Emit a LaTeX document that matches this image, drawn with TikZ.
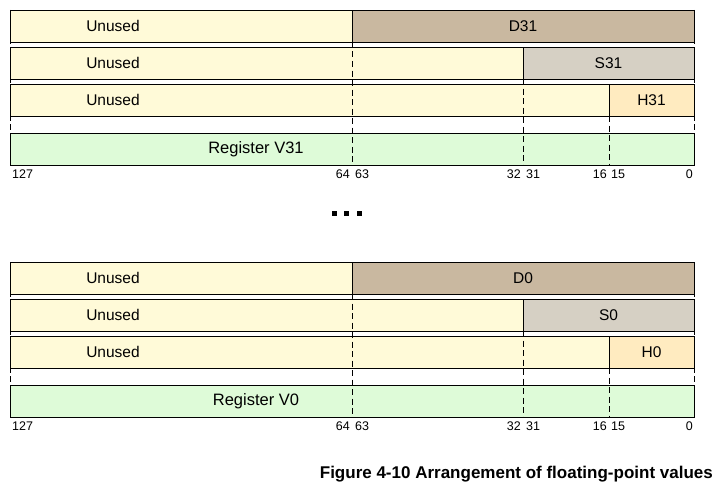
\documentclass[tikz,border=0pt]{standalone}
\usepackage{fontspec}
\setmainfont{Liberation Sans}
\usetikzlibrary{positioning}
\definecolor{unusedyellow}{RGB}{255,250,216}
\definecolor{dtan}{RGB}{201,184,160}
\definecolor{sgray}{RGB}{214,208,196}
\definecolor{horange}{RGB}{255,235,192}
\definecolor{vgreen}{RGB}{222,251,216}

\begin{document}
\begin{tikzpicture}[
  x=1pt, y=-1pt,
  field/.style={draw, line width=0.8pt},
  lbl/.style={font=\fontsize{15.5}{18}\selectfont, inner sep=0pt},
  reglbl/.style={font=\fontsize{16.5}{19}\selectfont, inner sep=0pt},
  bitnum/.style={font=\fontsize{12.5}{15}\selectfont, inner sep=0pt},
  divider/.style={dash pattern=on 6pt off 3.5pt, line width=0.8pt},
  dot/.style={fill=black}
]
\useasboundingbox (0,0) rectangle (725,495);

% one register block per group, V31 on top and V0 below
\foreach \n/\dy in {31/0, 0/252}{
  \begin{scope}[yshift=-\dy pt]
    \filldraw[field, fill=unusedyellow] (10,10) rectangle (352,42);
    \filldraw[field, fill=dtan] (352,10) rectangle (694,42);
    \filldraw[field, fill=unusedyellow] (10,47) rectangle (523,79);
    \filldraw[field, fill=sgray] (523,47) rectangle (694,79);
    \filldraw[field, fill=unusedyellow] (10,84) rectangle (609,116);
    \filldraw[field, fill=horange] (609,84) rectangle (694,116);
    \filldraw[field, fill=vgreen] (10,133) rectangle (694,165);

    \draw[divider] (10,10) -- (10,165);
    \draw[divider] (352,42) -- (352,165);
    \draw[divider] (523,79) -- (523,165);
    \draw[divider] (609,116) -- (609,165);
    \draw[divider] (694,10) -- (694,165);

    \node[lbl] (unusedd\n) at (113,26) {Unused};
    \node[lbl] (unuseds\n) at (113,63) {Unused};
    \node[lbl] (unusedh\n) at (113,100) {Unused};
    \node[lbl] (d\n) at (523,26) {D\n};
    \node[lbl] (s\n) at (608.5,63) {S\n};
    \node[lbl] (h\n) at (651.5,100) {H\n};
    \node[reglbl] (v\n) at (256,149) {Register V\n};

    \node[bitnum, anchor=west] (b127-\n) at (12,174) {127};
    \node[bitnum, anchor=east] (b64-\n) at (350,174) {64};
    \node[bitnum, anchor=west] (b63-\n) at (355,174) {63};
    \node[bitnum, anchor=east] (b32-\n) at (521,174) {32};
    \node[bitnum, anchor=west] (b31-\n) at (526,174) {31};
    \node[bitnum, anchor=east] (b16-\n) at (607,174) {16};
    \node[bitnum, anchor=west] (b15-\n) at (611,174) {15};
    \node[bitnum, anchor=east] (b0-\n) at (693,174) {0};
  \end{scope}
}

% ellipsis between the two groups
\foreach \x in {334.5,346.5,359.5}
  \fill[dot] (\x-2.7,211) rectangle (\x+2.7,216.4);

\node[font=\bfseries\fontsize{17}{20}\selectfont, anchor=east, inner sep=0pt] (caption) at (713,474) {Figure 4-10 Arrangement of floating-point values};
\end{tikzpicture}
\end{document}
